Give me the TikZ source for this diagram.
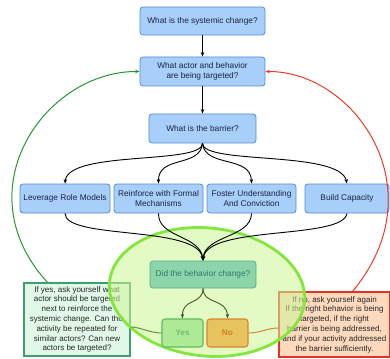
\documentclass[tikz,border=0pt]{standalone}
\usepackage{fontspec}
\setmainfont{Liberation Sans}
\usetikzlibrary{arrows.meta}
\definecolor{bfill}{RGB}{168,206,250}
\definecolor{bdraw}{RGB}{80,140,220}
\definecolor{btext}{RGB}{25,35,60}
\definecolor{garc}{RGB}{40,150,50}
\definecolor{rarc}{RGB}{230,60,40}
\definecolor{elldraw}{RGB}{130,230,60}
\definecolor{ellfill}{RGB}{205,245,150}
\definecolor{didfill}{RGB}{140,212,170}
\definecolor{diddraw}{RGB}{90,175,130}
\definecolor{didtext}{RGB}{50,120,100}
\definecolor{yesfill}{RGB}{175,235,150}
\definecolor{yesdraw}{RGB}{90,190,90}
\definecolor{yestext}{RGB}{110,190,110}
\definecolor{nofill}{RGB}{232,196,95}
\definecolor{nodraw}{RGB}{215,135,40}
\definecolor{notext}{RGB}{215,125,35}
\definecolor{lfill}{RGB}{225,248,232}
\definecolor{ldraw}{RGB}{60,160,110}
\definecolor{rfill}{RGB}{253,218,190}
\definecolor{rdraw}{RGB}{230,50,35}
\definecolor{olive}{RGB}{65,90,30}
\definecolor{yline}{RGB}{95,150,60}
\definecolor{nline}{RGB}{205,135,60}
\tikzset{
  bluebox/.style={draw=bdraw, fill=bfill, rounded corners=3pt, line width=0.8pt,
    text=btext, align=center, inner sep=1pt, font=\fontsize{8.3}{9.6}\selectfont},
  flow/.style={-{Stealth[length=4.5pt,width=3.5pt]}, line width=0.9pt, black},
  ansarrow/.style={-{Stealth[length=4.5pt,width=3.5pt]}, line width=0.9pt, olive},
  notebox/.style={align=center, inner sep=1pt, line width=1.2pt, font=\fontsize{8}{9.8}\selectfont, text=black!85},
}
\begin{document}
\begin{tikzpicture}[x=1pt,y=-1pt]
\useasboundingbox (0,0) rectangle (390,358);
% loop arcs
\coordinate (gstart) at (48,283);
\coordinate (rstart) at (352,292);
% boxes
\node[bluebox, minimum width=125pt, minimum height=28pt] (sys) at (202.5,21) {What is the systemic change?};
\node[bluebox, minimum width=125pt, minimum height=29pt] (act) at (202.5,71.5) {What actor and behavior\\ are being targeted?};
\node[bluebox, minimum width=107pt, minimum height=29pt] (bar) at (202.5,128.5) {What is the barrier?};
\node[bluebox, minimum width=90pt, minimum height=29pt] (lev) at (65,198.5) {Leverage Role Models};
\node[bluebox, minimum width=89pt, minimum height=29pt] (rei) at (158.5,198.5) {Reinforce with Formal\\ Mechanisms};
\node[bluebox, minimum width=89pt, minimum height=29pt] (fos) at (251.5,198.5) {Foster Understanding\\ And Conviction};
\node[bluebox, minimum width=84pt, minimum height=29pt] (bui) at (347,198.5) {Build Capacity};

\draw[garc, line width=1pt, -{Stealth[length=4.5pt,width=3.5pt]}] (gstart) .. controls (-38,190) and (45,71) .. (act.west);
\draw[rarc, line width=1pt, -{Stealth[length=4.5pt,width=3.5pt]}] (rstart) .. controls (438,190) and (355,71) .. (act.east);

\draw[flow] (sys) -- (act);
\draw[flow] (act) -- (bar);
\draw[flow] (bar.south) .. controls (202,165) and (68,150) .. (lev.north);
\draw[flow] (bar.south) .. controls (200,168) and (158,155) .. (rei.north);
\draw[flow] (bar.south) .. controls (205,168) and (251,155) .. (fos.north);
\draw[flow] (bar.south) .. controls (203,165) and (340,150) .. (bui.north);

% text boxes
\node[notebox, draw=ldraw, fill=lfill, minimum width=106pt, minimum height=73pt] (yesnote) at (77,319.5)
 {If yes, ask yourself what\\ actor should be targeted\\ next to reinforce the\\ systemic change. Can this\\ activity be repeated for\\ similar actors? Can new\\ actors be targeted?};
\node[notebox, draw=rdraw, fill=rfill, minimum width=111pt, minimum height=65pt] (nonote) at (334.5,324.5)
 {If no, ask yourself again\\ If the right behavior is being\\ targeted, if the right\\ barrier is being addressed,\\ and if your activity addressed\\ the barrier sufficiently.};

% ellipse
\draw[draw=elldraw, line width=2.8pt, fill=ellfill, fill opacity=0.55] (207,292) ellipse [x radius=98, y radius=64, rotate=-6];

\node[bluebox, draw=diddraw, fill=didfill, text=didtext, minimum width=106pt, minimum height=27pt] (did) at (203,274.5) {Did the behavior change?};
\node[bluebox, draw=yesdraw, fill=yesfill, text=yestext, line width=1.1pt, minimum width=41pt, minimum height=28pt] (yes) at (182.5,333) {\bfseries Yes};
\node[bluebox, draw=nodraw, fill=nofill, text=notext, line width=1.1pt, minimum width=41pt, minimum height=28pt] (no) at (227.5,333) {\bfseries No};

\draw[flow] (lev.south) .. controls (65,240) and (198,225) .. (did.north);
\draw[flow] (rei.south) .. controls (158,238) and (200,235) .. (did.north);
\draw[flow] (fos.south) .. controls (251,238) and (205,235) .. (did.north);
\draw[flow] (bui.south) .. controls (343,240) and (207,225) .. (did.north);

\draw[ansarrow] (did.south) .. controls (203,305) and (182,298) .. (yes.north);
\draw[ansarrow] (did.south) .. controls (203,305) and (227,298) .. (no.north);

\draw[yline, line width=1pt] (yes.west) .. controls (150,333) and (140,327) .. ([yshift=-7.5pt]yesnote.east);
\draw[nline, line width=1pt] (no.east) .. controls (260,333) and (268,328) .. ([yshift=-3.5pt]nonote.west);
\end{tikzpicture}
\end{document}
